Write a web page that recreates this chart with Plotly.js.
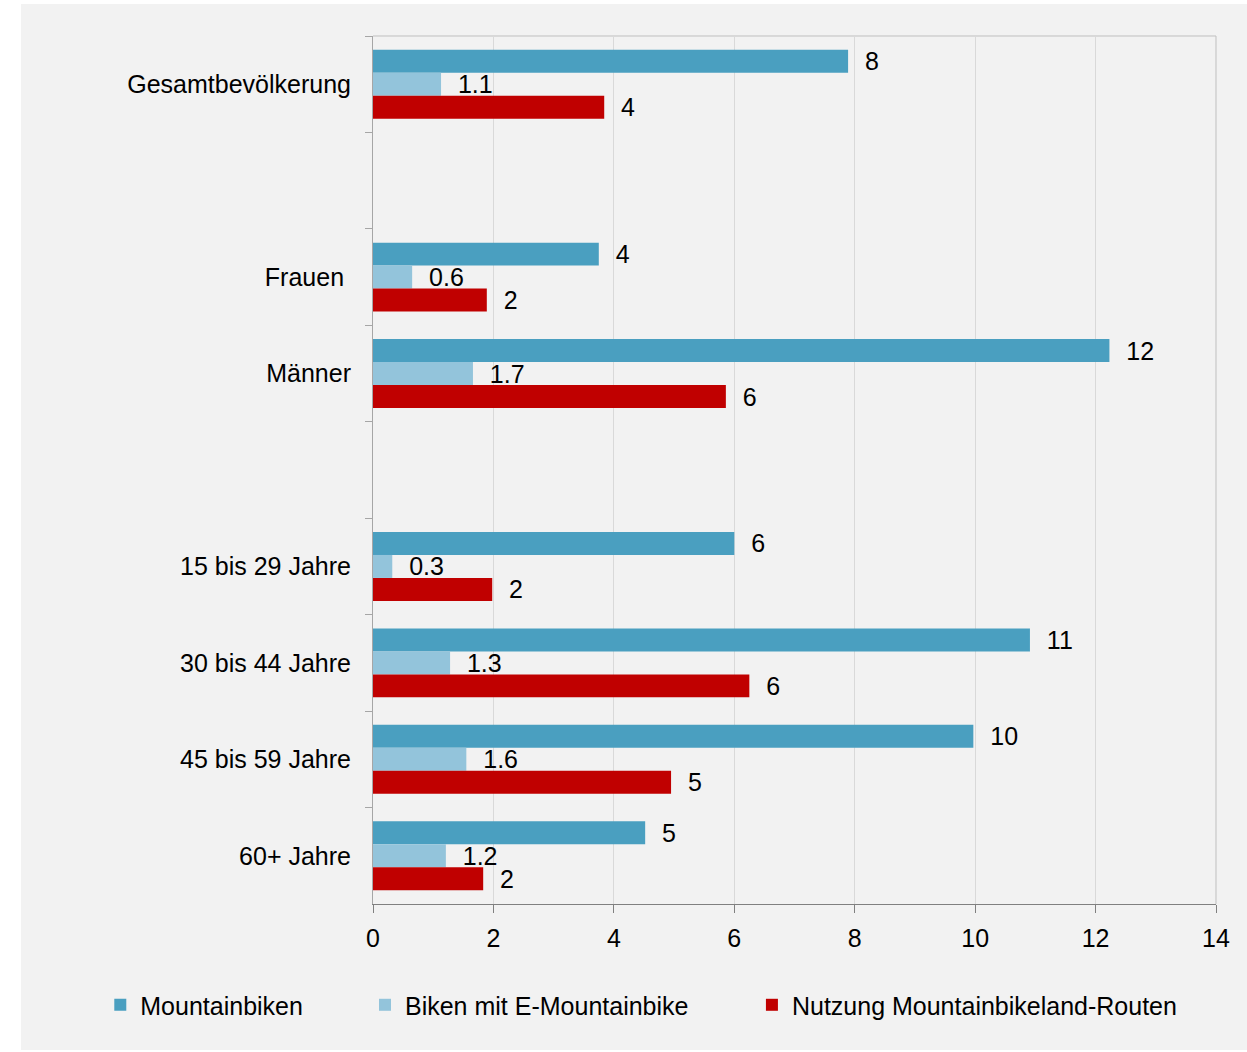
<!DOCTYPE html>
<html>
<head>
<meta charset="utf-8">
<script src="https://cdn.plot.ly/plotly-3.0.1.min.js"></script>
<style>
  html, body { margin: 0; padding: 0; background: #ffffff; }
  #chart { position: absolute; left: 21px; top: 4px; width: 1226px; height: 1046px; }
</style>
</head>
<body>
<div id="chart"></div>
<script>
// ---- data ----
const categories = ["Gesamtbevölkerung", " ", "Frauen\u00a0", "Männer", "  ",
  "15 bis 29 Jahre", "30 bis 44 Jahre", "45 bis 59 Jahre", "60+ Jahre"];
const seriesNames = ["Mountainbiken", "Biken mit E-Mountainbike", "Nutzung Mountainbikeland-Routen"];
const mountainbiken = [7.89, null, 3.75, 12.23, null, 6.0, 10.91, 9.97, 4.52];
const eMountainbike = [1.13, null, 0.65, 1.66, null, 0.32, 1.28, 1.55, 1.21];
const routen = [3.84, null, 1.89, 5.86, null, 1.98, 6.25, 4.95, 1.83];
const mountainbikenLabels = ["8", "", "4", "12", "", "6", "11", "10", "5"];
const eMountainbikeLabels = ["1.1", "", "0.6", "1.7", "", "0.3", "1.3", "1.6", "1.2"];
const routenLabels = ["4", "", "2", "6", "", "2", "6", "5", "2"];
const xTicks = [0, 2, 4, 6, 8, 10, 12, 14];

// ---- styles ----
const colors = ["#4a9fc0", "#93c4db", "#c00000"];
const fontFamily = "'Liberation Sans', Arial, Helvetica, sans-serif";
const bg = "#f2f2f2";
const fs = 25;

function barTrace(x, labels, i, legendId) {
  return {
    type: "bar",
    orientation: "h",
    name: seriesNames[i],
    y: categories,
    x: x,
    text: labels,
    texttemplate: "\u00a0\u00a0%{text}",
    textposition: "outside",
    constraintext: "none",
    cliponaxis: false,
    textfont: { family: fontFamily, size: fs, color: "#000000" },
    marker: { color: colors[i], line: { width: 0 } },
    legend: legendId,
    hoverinfo: "x+y+name"
  };
}

const data = [
  barTrace(mountainbiken, mountainbikenLabels, 0, "legend"),
  barTrace(eMountainbike, eMountainbikeLabels, 1, "legend2"),
  barTrace(routen, routenLabels, 2, "legend3")
];

const legendBase = {
  orientation: "h",
  yanchor: "middle",
  xanchor: "left",
  y: -0.1164,
  bgcolor: "rgba(0,0,0,0)",
  borderwidth: 0,
  font: { family: fontFamily, size: fs, color: "#000000" },
  itemwidth: 30
};

const layout = {
  width: 1226,
  height: 1046,
  paper_bgcolor: bg,
  plot_bgcolor: bg,
  font: { family: fontFamily, size: fs, color: "#000000" },
  margin: { l: 352, r: 31, t: 32, b: 146, pad: 0 },
  barmode: "group",
  bargap: 0.285,
  bargroupgap: 0,
  showlegend: true,
  legend: Object.assign({}, legendBase, { x: -0.3235 }),
  legend2: Object.assign({}, legendBase, { x: -0.0095 }),
  legend3: Object.assign({}, legendBase, { x: 0.4495 }),
  xaxis: {
    range: [0, 14],
    tickvals: xTicks,
    ticktext: xTicks.map(String),
    showgrid: true,
    gridcolor: "#d9d9d9",
    gridwidth: 1,
    zeroline: false,
    showline: true,
    linecolor: "#808080",
    linewidth: 1,
    ticks: "outside",
    ticklen: 8,
    tickcolor: "#808080",
    ticklabelstandoff: 4,
    tickfont: { family: fontFamily, size: fs, color: "#000000" },
    fixedrange: true
  },
  yaxis: {
    type: "category",
    categoryorder: "array",
    categoryarray: categories,
    autorange: "reversed",
    showgrid: false,
    zeroline: false,
    showline: true,
    linecolor: "#a6a6a6",
    linewidth: 1,
    ticks: "outside",
    tickson: "boundaries",
    ticklen: 7,
    tickcolor: "#a6a6a6",
    ticklabelstandoff: 16,
    tickfont: { family: fontFamily, size: fs, color: "#000000" },
    fixedrange: true
  },
  shapes: [
    { type: "line", xref: "paper", yref: "paper", x0: 0, x1: 1, y0: 1, y1: 1,
      line: { color: "#bfbfbf", width: 1 }, layer: "below" },
    { type: "line", xref: "paper", yref: "paper", x0: 1, x1: 1, y0: 0, y1: 1,
      line: { color: "#bfbfbf", width: 1 }, layer: "below" }
  ]
};

Plotly.newPlot("chart", data, layout, { displayModeBar: false, staticPlot: true });
</script>
</body>
</html>
